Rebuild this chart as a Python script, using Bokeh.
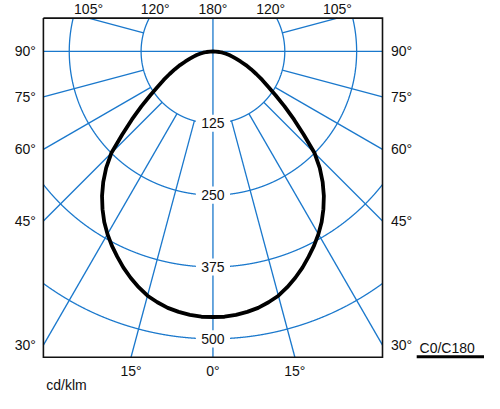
import numpy as np
from bokeh.plotting import figure
from bokeh.models import Range1d
from bokeh.core.properties import value
from bokeh.embed import file_html
from bokeh.resources import INLINE

# ---------------- data ----------------
gamma_deg = [0, 2.5, 5, 7.5, 10, 12.5, 15, 17.5, 20, 22.5, 25, 27.5, 30, 32.5, 35, 37.5,
             40, 42.5, 45, 47.5, 50, 52.5, 55, 57.5, 60, 62.5, 65, 67.5, 70, 72.5, 75,
             77.5, 80, 82.5, 85, 87.5, 90]
intensity_c0 = [462, 462, 460, 457, 453, 447, 440, 430, 419, 407, 394, 381, 367, 352, 335, 317,
                297, 275, 250, 214, 184, 157, 133, 114, 99, 85, 73, 62, 51, 42, 35,
                29, 23, 17, 11, 5, 0]
intensity_c180 = [462, 462, 460, 457, 453, 447, 440, 430, 419, 407, 394, 381, 367, 352, 335, 317,
                  297, 275, 250, 214, 184, 157, 133, 114, 99, 85, 73, 62, 51, 42, 35,
                  29, 23, 17, 11, 5, 0]

circle_values = [125, 250, 375, 500]
spoke_angles = [0, 15, 30, 45, 60, 75, 90, 105, 180]
side_tick_angles = [90, 75, 60, 45, 30]
top_tick_angles = [105, 120, 180]
bottom_tick_angles = [15, 0]
unit_text = "cd/klm"
plane_text = "C0/C180"

# ---------------- layout / style ----------------
W, H = 484, 393
REF = 0.605             # reference px per cd/klm
K = 0.95                # shrink so the whole fits in the page
S = REF * K             # screen px per cd/klm
PX = 1.0 / REF          # one reference pixel in cd/klm
ORIGIN_REF = (211, 51)  # polar origin in the reference picture
OFF = (12.0, 2.5)       # screen offset of the scaled reference

BX, BT, BB = 295.0, 58.0, -532.0   # frame box (half width, top, bottom) in cd/klm

BLUE = "#1a78cc"
TXT = "#111111"
FONT = "Liberation Sans"
FS = "14px"

left_ref = -OFF[0] / K
top_ref = -OFF[1] / K
u_left = (left_ref - ORIGIN_REF[0]) * PX
v_top = (ORIGIN_REF[1] - top_ref) * PX

p = figure(width=W, height=H,
           x_range=Range1d(u_left, u_left + W / S),
           y_range=Range1d(v_top - H / S, v_top),
           output_backend="svg", toolbar_location=None, min_border=0,
           x_axis_type=None, y_axis_type=None, outline_line_color=None,
           background_fill_color="white", border_fill_color="white")
p.grid.visible = False

# ---------------- grid circles (clipped to the box) ----------------
t = np.linspace(np.pi, 3 * np.pi, 6001)
cxs, cys = [], []
for R in circle_values:
    x = R * np.sin(t)
    y = -R * np.cos(t)
    ins = (np.abs(x) <= BX) & (y <= BT) & (y >= BB)
    idx = np.flatnonzero(ins)
    if idx.size == 0:
        continue
    for run in np.split(idx, np.flatnonzero(np.diff(idx) > 1) + 1):
        cxs.append(x[run].tolist())
        cys.append(y[run].tolist())
p.multi_line(cxs, cys, line_color=BLUE, line_width=1.3)

# ---------------- spokes ----------------
sxs, sys_ = [], []
for a in spoke_angles:
    sides = (1,) if a in (0, 180) else (1, -1)
    g = np.radians(a)
    for s in sides:
        dx, dy = s * np.sin(g), -np.cos(g)
        lim = []
        if abs(dx) > 1e-9:
            lim.append(BX / abs(dx))
        if dy > 1e-9:
            lim.append(BT / dy)
        if dy < -1e-9:
            lim.append(BB / dy)
        r1 = min(lim)
        r0 = 0.0 if a in (0, 90, 180) else float(circle_values[0])
        if r1 > r0:
            sxs.append([r0 * dx, r1 * dx])
            sys_.append([r0 * dy, r1 * dy])
p.multi_line(sxs, sys_, line_color=BLUE, line_width=1.3)

# ---------------- circle value labels ----------------
ly = [-R for R in circle_values]
p.rect(x=[0] * len(ly), y=ly, width=36 * K, height=18 * K,
       width_units="screen", height_units="screen",
       fill_color="white", line_color=None)
p.text(x=[0] * len(ly), y=ly, text=[str(R) for R in circle_values],
       text_align="center", text_baseline="middle",
       text_font=value(FONT), text_font_size=value(FS), text_color=TXT)

# ---------------- luminous intensity curve ----------------
g = np.radians(gamma_deg)
i0 = np.array(intensity_c0, dtype=float)
i180 = np.array(intensity_c180, dtype=float)
x0, y0 = i0 * np.sin(g), -i0 * np.cos(g)
x180, y180 = -i180 * np.sin(g), -i180 * np.cos(g)
curve_x = np.concatenate([x180[::-1], x0[1:]])
curve_y = np.concatenate([y180[::-1], y0[1:]])
p.line(curve_x, curve_y, line_color="black", line_width=3.8,
       line_join="round", line_cap="round")

# ---------------- frame box ----------------
p.multi_line([[-BX, BX, BX, -BX, -BX]], [[BT, BT, BB, BB, BT]],
             line_color="#111111", line_width=1.6, line_join="miter")

# ---------------- angle labels ----------------
txt_kw = dict(text_font=value(FONT), text_font_size=value(FS), text_color=TXT,
              text_baseline="middle")

side_y = [-BX * np.cos(np.radians(a)) / np.sin(np.radians(a)) for a in side_tick_angles]
side_t = [f"{a}°" for a in side_tick_angles]
p.text(x=[-BX - 8 * PX] * len(side_y), y=side_y, text=side_t, text_align="right", **txt_kw)
p.text(x=[BX + 9 * PX] * len(side_y), y=side_y, text=side_t, text_align="left", **txt_kw)

tx, tt = [], []
for a in top_tick_angles:
    xa = BT * abs(np.tan(np.radians(a)))
    for s in ((1,) if a == 180 else (-1, 1)):
        tx.append(s * xa)
        tt.append(f"{a}°")
p.text(x=tx, y=[BT + 9.3 * PX] * len(tx), text=tt, text_align="center", **txt_kw)

bx_, bt_ = [], []
for a in bottom_tick_angles:
    xa = -BB * np.tan(np.radians(a))
    for s in ((1,) if a == 0 else (-1, 1)):
        bx_.append(s * xa)
        bt_.append(f"{a}°")
p.text(x=bx_, y=[BB - 14.5 * PX] * len(bx_), text=bt_, text_align="center", **txt_kw)

# ---------------- unit and plane labels ----------------
p.text(x=[-BX + 3 * PX], y=[BB - 29 * PX], text=[unit_text], text_align="left", **txt_kw)
p.text(x=[BX + 39 * PX], y=[BB + 10 * PX], text=[plane_text], text_align="left", **txt_kw)
p.segment(x0=[BX + 36 * PX], y0=[BB + 0.5 * PX], x1=[BX + 140 * PX], y1=[BB + 0.5 * PX],
          line_color="black", line_width=3 * K)

open("out.html", "w").write(file_html(p, INLINE))
